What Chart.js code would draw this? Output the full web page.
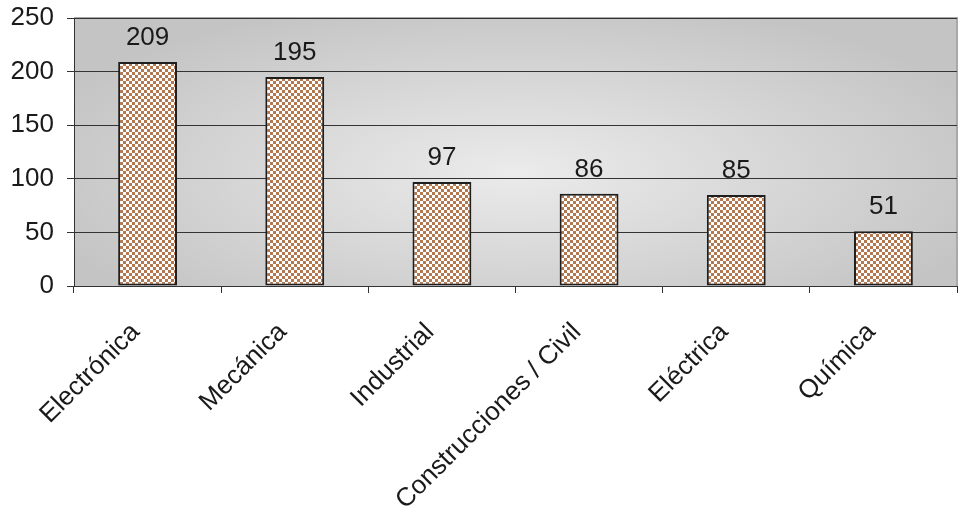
<!DOCTYPE html>
<html>
<head>
<meta charset="utf-8">
<script src="https://cdn.jsdelivr.net/npm/chart.js@4/dist/chart.umd.min.js"></script>
<style>
  html, body { margin: 0; padding: 0; background: #fff; }
  #chart { display: block; }
</style>
</head>
<body>
<canvas id="chart" width="964" height="506"></canvas>
<script>
// data
const categories = ['Electrónica', 'Mecánica', 'Industrial', 'Construcciones / Civil', 'Eléctrica', 'Química'];
const values = [209, 195, 97, 86, 85, 51];
const yTicks = [0, 50, 100, 150, 200, 250];

const FONT = '"Liberation Sans", Arial, sans-serif';

// checkered brown / white fill like the old office chart
function makePattern() {
    const c = document.createElement('canvas');
    c.width = 6;
    c.height = 6;
    const p = c.getContext('2d');
    p.fillStyle = '#ffffff';
    p.fillRect(0, 0, 6, 6);
    p.fillStyle = '#b3784f';
    p.fillRect(0, 0, 3, 3);
    p.fillRect(3, 3, 3, 3);
    return p.createPattern(c, 'repeat');
}

// gray gradient behind the plot, plus the thin gray frame
const plotBackground = {
    id: 'plotBackground',
    beforeDraw(chart) {
        const { ctx, chartArea: a } = chart;
        const cx = (a.left + a.right) / 2;
        const cy = (a.top + a.bottom) / 2 + 20;
        const sx = (a.right - a.left) / 2;
        const sy = (a.bottom - a.top) / 2 + 20;
        ctx.save();
        ctx.beginPath();
        ctx.rect(a.left, a.top, a.right - a.left, a.bottom - a.top);
        ctx.clip();
        ctx.translate(cx, cy);
        ctx.scale(sx / sy, 1);
        const g = ctx.createRadialGradient(0, 0, 0, 0, 0, sy * 1.15);
        g.addColorStop(0, '#ebebeb');
        g.addColorStop(1, '#c4c4c4');
        ctx.fillStyle = g;
        ctx.fillRect(-sy * 2, -sy * 2, sy * 4, sy * 4);
        ctx.restore();

        ctx.save();
        ctx.strokeStyle = '#a9a9ab';
        ctx.lineWidth = 2;
        ctx.beginPath();
        ctx.moveTo(a.left, a.top);
        ctx.lineTo(a.right, a.top);
        ctx.lineTo(a.right, a.bottom);
        ctx.stroke();
        ctx.restore();
    }
};

// value over each bar
const barLabels = {
    id: 'barLabels',
    afterDatasetsDraw(chart) {
        const ctx = chart.ctx;
        const meta = chart.getDatasetMeta(0);
        ctx.save();
        ctx.font = '26px ' + FONT;
        ctx.fillStyle = '#1a1a1a';
        ctx.textAlign = 'center';
        ctx.textBaseline = 'bottom';
        meta.data.forEach((bar, i) => {
            ctx.fillText(values[i], bar.x, bar.y - 11);
        });
        ctx.restore();
    }
};

const ctx = document.getElementById('chart').getContext('2d');
const myChart = new Chart(ctx, {
    type: 'bar',
    data: {
        labels: categories,
        datasets: [{
            data: values,
            backgroundColor: makePattern(),
            borderColor: '#1e1e1e',
            borderWidth: 2,
            borderSkipped: false,
            categoryPercentage: 1,
            barPercentage: 0.4
        }]
    },
    options: {
        responsive: false,
        animation: false,
        layout: { padding: { top: 18, right: 7, left: 0, bottom: 0 } },
        plugins: {
            legend: { display: false },
            tooltip: { enabled: false }
        },
        scales: {
            x: {
                offset: true,
                grid: {
                    offset: true,
                    drawOnChartArea: false,
                    drawTicks: true,
                    tickLength: 7,
                    color: '#333333'
                },
                border: { display: true, color: '#333333', width: 1 },
                ticks: {
                    minRotation: 45,
                    maxRotation: 45,
                    padding: 24,
                    labelOffset: -12,
                    color: '#1a1a1a',
                    font: { family: FONT, size: 26 }
                },
                afterFit(scale) {
                    scale.height = 220;
                    scale.paddingLeft = 0;
                    scale.paddingRight = 0;
                }
            },
            y: {
                min: 0,
                max: 250,
                afterBuildTicks(scale) {
                    scale.ticks = yTicks.map(v => ({ value: v }));
                },
                grid: {
                    color: '#333333',
                    lineWidth: 1,
                    tickLength: 7
                },
                border: { display: true, color: '#333333', width: 1 },
                ticks: {
                    padding: 13,
                    color: '#1a1a1a',
                    font: { family: FONT, size: 26 }
                },
                afterFit(scale) {
                    scale.width = 74;
                    scale.paddingTop = 0;
                    scale.paddingBottom = 0;
                }
            }
        }
    },
    plugins: [plotBackground, barLabels]
});
</script>
</body>
</html>
